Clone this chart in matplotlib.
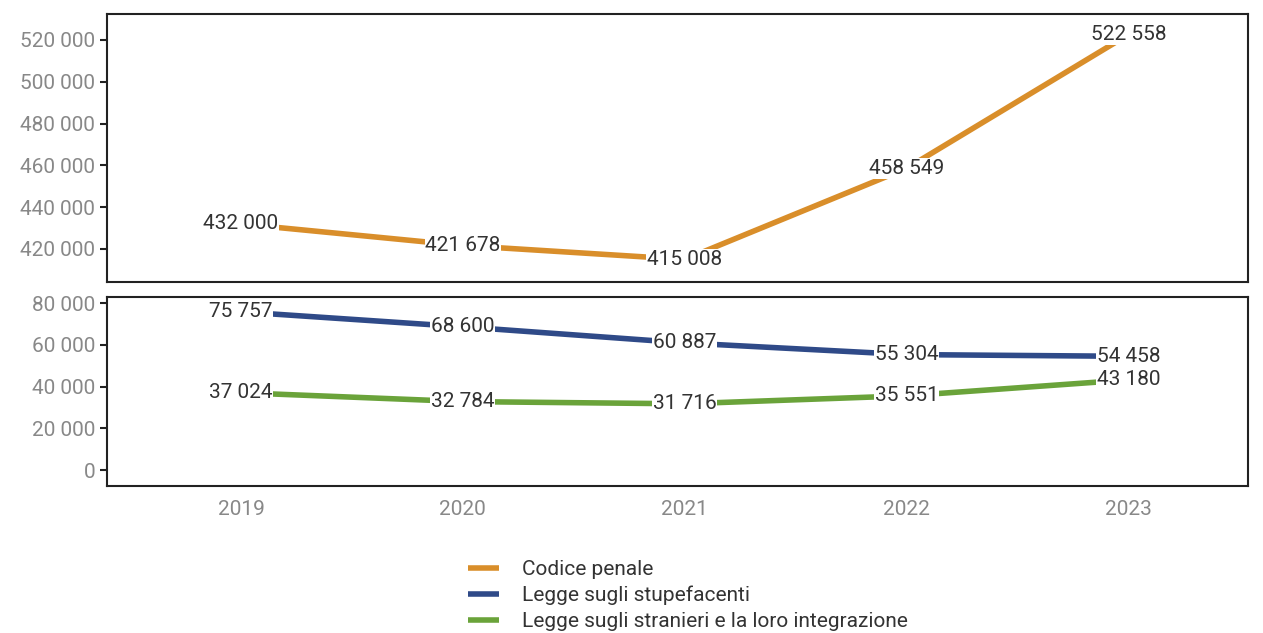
import matplotlib.pyplot as plt
from matplotlib.ticker import FuncFormatter

plt.rcParams['font.family'] = ['Roboto', 'DejaVu Sans']

# Data
years = [2019, 2020, 2021, 2022, 2023]
codice_penale = [432000, 421678, 415008, 458549, 522558]
stupefacenti = [75757, 68600, 60887, 55304, 54458]
stranieri = [37024, 32784, 31716, 35551, 43180]

labels = ["Codice penale", "Legge sugli stupefacenti",
          "Legge sugli stranieri e la loro integrazione"]
colors = ["#D98E2A", "#2F4A88", "#6AA33A"]

FS = 15


def fmt(v, pos=None):
    return f"{int(v):,}".replace(",", " ")


fig = plt.figure(figsize=(12.63, 6.33), dpi=100)
ax_top = fig.add_axes([0.0847, 0.5545, 0.9035, 0.4234])
ax_bot = fig.add_axes([0.0847, 0.2322, 0.9035, 0.2986])

handles = []
for ax, series in [(ax_top, [(codice_penale, 0)]),
                   (ax_bot, [(stupefacenti, 1), (stranieri, 2)])]:
    for vals, i in series:
        ln, = ax.plot(years, vals, color=colors[i], lw=4,
                      solid_capstyle='butt', zorder=2)
        handles.append(ln)
        for x, y in zip(years, vals):
            ax.text(x, y, fmt(y), ha='center', va='center', fontsize=FS,
                    color='#333333', zorder=3,
                    bbox=dict(facecolor='white', edgecolor='none', pad=0.5))
    ax.set_xlim(2018.396, 2023.54)
    ax.yaxis.set_major_formatter(FuncFormatter(fmt))
    ax.tick_params(axis='both', colors='#222222', labelcolor='#888888',
                   labelsize=FS, length=5, width=1.5)
    for s in ax.spines.values():
        s.set_color('#222222')
        s.set_linewidth(1.5)

ax_top.set_ylim(404210, 532440)
ax_top.set_yticks(range(420000, 520001, 20000))
ax_top.set_xticks([])

ax_bot.set_ylim(-7665, 82874)
ax_bot.set_yticks(range(0, 80001, 20000))
ax_bot.set_xticks(years)
ax_bot.tick_params(axis='x', length=0, pad=10)

fig.legend(handles, labels, loc='upper left', bbox_to_anchor=(0.3705, 0.115),
           frameon=False, fontsize=FS, handlelength=1.5, handletextpad=1.1,
           labelspacing=0.32, borderpad=0, borderaxespad=0)
for t in fig.legends[0].get_texts():
    t.set_color('#333333')

fig.savefig("out.png", dpi=100)
